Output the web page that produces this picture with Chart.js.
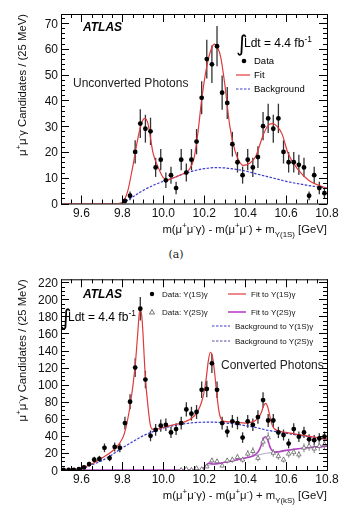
<!DOCTYPE html>
<html>
<head>
<meta charset="utf-8">
<script src="https://cdn.jsdelivr.net/npm/chart.js@4.4.1/dist/chart.umd.min.js"></script>
<style>
  body { margin: 0; background: #fff; width: 352px; height: 512px; overflow: hidden; position: relative; }
  canvas { position: absolute; left: 0; }
  #c1 { top: 0; }
  #c2 { top: 262px; }
  #cap { position: absolute; top: 248px; left: 0; width: 352px; text-align: center;
         font: 11px "DejaVu Serif", "Liberation Serif", serif; color: #222; }
</style>
</head>
<body>
<canvas id="c1" width="352" height="245"></canvas>
<div id="cap">(a)</div>
<canvas id="c2" width="352" height="250"></canvas>
<script>
// ---------------- Data ----------------
// histogram bins: 25 MeV from 9.5 GeV
const binStart = 9.5;
const binWidth = 0.025;
const xTickLabels = [9.6, 9.8, 10.0, 10.2, 10.4, 10.6, 10.8];
const yTickLabelsTop = [0, 10, 20, 30, 40, 50, 60, 70];
const yTickLabelsBottom = [0, 20, 40, 60, 80, 100, 120, 140, 160, 180, 200, 220];

// (a) unconverted photons
const unconvCounts = [null, null, null, null, null, null, null, null, null, null, null, null,
  1, 3, 20, 31, 29, 28, 14, 17, 9, 11, 6, 17, 12, 17, 24, 41, 56, 54, 61, 43, 39, 23,
  16, 11, 17, 14, 18, 30, 33, 29, 33, 20, 16, 16, 15, 14, 3, 11, 6, 4];
const unconvErrors = [0, 0, 0, 0, 0, 0, 0, 0, 0, 0, 0, 0,
  1, 1.7, 4.5, 5.6, 5.4, 5.3, 3.7, 4.1, 3, 3.3, 2.4, 4.1, 3.5, 4.1, 4.9, 6.4, 7.5, 7.3, 7.8, 6.6, 6.2, 4.8,
  4, 3.3, 4.1, 3.7, 4.2, 5.5, 5.7, 5.4, 5.7, 4.5, 4, 4, 3.9, 3.7, 1.7, 3.3, 2.4, 2];

const unconvFitX = [9.5, 9.78, 9.8, 9.825, 9.85, 9.875, 9.895, 9.91, 9.925, 9.95, 9.975, 10.0, 10.025, 10.05,
  10.1, 10.125, 10.15, 10.17, 10.187, 10.212, 10.237, 10.25, 10.265, 10.28, 10.3, 10.325, 10.35, 10.37, 10.39,
  10.42, 10.45, 10.49, 10.515, 10.535, 10.555, 10.58, 10.61, 10.66, 10.71, 10.8];
const unconvFitY = [0, 0, 0.5, 4.5, 14, 25, 31.5, 33, 31, 19.5, 14, 10, 9.2, 10,
  11.6, 13, 17.5, 28, 40, 53, 60.5, 61.8, 60.5, 57, 46.6, 30, 20.5, 16.5, 14.8,
  15.5, 18, 27, 30.5, 31, 30, 27, 19.4, 13, 9, 5.8];

const unconvBkgX = [9.8, 9.85, 9.9, 9.95, 10.0, 10.05, 10.1, 10.15, 10.2, 10.25, 10.3, 10.35, 10.4, 10.45,
  10.5, 10.55, 10.6, 10.65, 10.7, 10.75, 10.8];
const unconvBkgY = [0, 2.5, 5, 7, 8.6, 10, 11.5, 12.7, 13.5, 13.9, 13.8, 13.3, 12.6, 11.6,
  10.6, 9.6, 8.6, 7.8, 7.1, 6.5, 6];

// (b) converted photons
const conv1SCounts = [0, 0, 0, 1, 3, 7, 12, 13, 26, 14, 27, 26, 55, 80, 120, 189, 106, 40, 47, 52,
  53, 44, 48, 55, 71, 66, 68, 94, 95, 125, 94, 55, 45, 57, 55, 38, 57, 53, 62, 82,
  58, 58, 44, 41, 31, 48, 39, 44, 36, 35, 37, 39];
const conv1SErrors = [0, 0, 0, 1, 1.7, 2.6, 3.5, 3.6, 5.1, 3.7, 5.2, 5.1, 7.4, 8.9, 11, 13.7, 10.3, 6.3, 6.9, 7.2,
  7.3, 6.6, 6.9, 7.4, 8.4, 8.1, 8.2, 9.7, 9.7, 11.2, 9.7, 7.4, 6.7, 7.5, 7.4, 6.2, 7.5, 7.3, 7.9, 9.1,
  7.6, 7.6, 6.6, 6.4, 5.6, 6.9, 6.2, 6.6, 6, 5.9, 6.1, 6.2];

const conv2SCounts = [null, null, null, null, null, null, null, null, null, null, null, null, null, null,
  null, null, null, null, null, null, null, null, null,
  0, 1, 0, 2, 1, 4, 11, 10, 5, 11, 12, 15, 12, 19, 22, 14, 33, 38, 20, 16, 12, 19, 21, 18, 26, 28, 25, 28, 30];
const conv2SErrors = [0, 0, 0, 0, 0, 0, 0, 0, 0, 0, 0, 0, 0, 0, 0, 0, 0, 0, 0, 0, 0, 0, 0,
  0, 1, 0, 1.4, 1, 2, 3.3, 3.2, 2.2, 3.3, 3.5, 3.9, 3.5, 4.4, 4.7, 3.7, 5.7, 6.2, 4.5, 4, 3.5, 4.4, 4.6, 4.2, 5.1, 5.3, 5, 5.3, 5.5];

const conv1SFitX = [9.5, 9.55, 9.6, 9.65, 9.7, 9.75, 9.785, 9.81, 9.8375, 9.8625, 9.875, 9.885, 9.895, 9.9125,
  9.925, 9.935, 9.945, 9.97, 10.0, 10.05, 10.1, 10.15, 10.175, 10.19, 10.2, 10.21, 10.22, 10.23, 10.24,
  10.25, 10.26, 10.27, 10.28, 10.3, 10.35, 10.4, 10.45, 10.47, 10.48, 10.49, 10.5, 10.51, 10.52, 10.53,
  10.54, 10.55, 10.6, 10.7, 10.8];
const conv1SFitY = [0, 0.3, 2, 7, 14, 22, 31, 43, 75, 122, 160, 188, 180, 108,
  75, 55, 48, 48, 50, 53, 56, 63, 72, 82, 92, 108, 128, 138, 133,
  116, 92, 72, 61, 57, 56, 55, 58, 63, 68, 75, 78, 74, 64, 54,
  49, 47, 44, 40, 36];

const conv1SBkgX = [9.5, 9.55, 9.6, 9.65, 9.7, 9.75, 9.8, 9.85, 9.9, 9.95, 10.0, 10.05, 10.1, 10.15, 10.2,
  10.25, 10.3, 10.35, 10.4, 10.45, 10.5, 10.55, 10.6, 10.7, 10.8];
const conv1SBkgY = [0, 0.3, 2, 6, 11, 18, 26, 33, 40, 45, 49, 52, 54, 55.5, 56,
  56, 55, 54, 52, 50, 47, 45, 43, 39.5, 36];

const conv2SFitX = [9.5, 10.18, 10.2, 10.215, 10.225, 10.24, 10.25, 10.3, 10.35, 10.4, 10.45, 10.47, 10.48,
  10.49, 10.5, 10.51, 10.52, 10.53, 10.55, 10.6, 10.7, 10.8];
const conv2SFitY = [0, 0, 3, 7, 8, 7, 7, 9, 11.5, 14, 18, 24, 30,
  37, 39, 36, 28, 23, 21, 23, 26, 28];

const conv2SBkgX = [10.19, 10.2, 10.25, 10.3, 10.4, 10.5, 10.55, 10.6, 10.7, 10.8];
const conv2SBkgY = [0, 3, 7, 9, 14, 19.5, 21, 23, 26, 28];

// ---------------- Helpers ----------------
const FONT = '"Liberation Sans", Arial, Helvetica, sans-serif';
const RED = '#e0393b';
const BLUE = '#3a3ad0';
const PURPLE = '#b443c4';

function binPoints(counts) {
  return counts.map((c, i) => ({ x: binStart + binWidth * (i + 0.5), y: c }));
}
function curve(xs, ys) {
  return xs.map((x, i) => ({ x: x, y: ys[i] }));
}

// draw text made of pieces; piece = [text, 'sup'|'sub'|undefined]
function richWidth(ctx, parts, size) {
  let w = 0;
  parts.forEach(p => {
    ctx.font = (p[1] ? size * 0.7 : size) + 'px ' + FONT;
    w += ctx.measureText(p[0]).width;
  });
  return w;
}
function drawRich(ctx, parts, x, y, size, align) {
  if (align === 'right') x -= richWidth(ctx, parts, size);
  ctx.textAlign = 'left';
  ctx.textBaseline = 'alphabetic';
  parts.forEach(p => {
    let dy = 0;
    if (p[1] === 'sup') dy = -size * 0.42;
    if (p[1] === 'sub') dy = size * 0.32;
    ctx.font = (p[1] ? size * 0.7 : size) + 'px ' + FONT;
    ctx.fillText(p[0], x, y + dy);
    x += ctx.measureText(p[0]).width;
  });
}

// error bars drawn through the scales
const errorBars = {
  id: 'errorBars',
  beforeDatasetsDraw(chart) {
    const { ctx, scales: { x, y } } = chart;
    ctx.save();
    chart.data.datasets.forEach(ds => {
      if (!ds.errors) return;
      ctx.strokeStyle = ds.errorColor;
      ctx.lineWidth = 1.3;
      ds.data.forEach((p, i) => {
        const e = ds.errors[i];
        if (p.y === null || !e) return;
        const px = x.getPixelForValue(p.x);
        ctx.beginPath();
        ctx.moveTo(px, y.getPixelForValue(Math.max(0, p.y - e)));
        ctx.lineTo(px, y.getPixelForValue(p.y + e));
        ctx.stroke();
      });
    });
    ctx.restore();
  }
};

// ROOT-like frame, inside ticks on all four sides, tick labels and y title
const frameTicks = {
  id: 'frameTicks',
  afterDraw(chart) {
    const { ctx, chartArea: a, scales: { x, y } } = chart;
    const o = chart.options.plugins.frameTicks;
    ctx.save();
    ctx.strokeStyle = '#000';
    ctx.lineWidth = 1;
    ctx.strokeRect(a.left + 0.5, a.top + 0.5, a.right - a.left, a.bottom - a.top);
    ctx.beginPath();
    for (let i = 0; i <= 26; i++) {
      const px = Math.round(x.getPixelForValue(binStart + i * 0.05)) + 0.5;
      const len = (i % 4 === 2) ? 8 : 4;
      ctx.moveTo(px, a.bottom); ctx.lineTo(px, a.bottom - len);
      ctx.moveTo(px, a.top); ctx.lineTo(px, a.top + len);
    }
    for (let v = 0; v <= y.max; v += o.minor) {
      const py = Math.round(y.getPixelForValue(v)) + 0.5;
      const len = (Math.round(v) % o.major === 0) ? 8 : 4;
      ctx.moveTo(a.left, py); ctx.lineTo(a.left + len, py);
      ctx.moveTo(a.right, py); ctx.lineTo(a.right - len, py);
    }
    ctx.stroke();

    ctx.fillStyle = '#111';
    ctx.font = '12px ' + FONT;
    ctx.textAlign = 'center';
    ctx.textBaseline = 'alphabetic';
    xTickLabels.forEach(v => ctx.fillText(v.toFixed(1), x.getPixelForValue(v), a.bottom + 13));
    ctx.textAlign = 'right';
    o.yLabels.forEach(v => ctx.fillText(String(v), a.left - 3, y.getPixelForValue(v) + 4.5));

    // y title, right aligned to top of frame (ROOT style)
    ctx.translate(22, a.top);
    ctx.rotate(-Math.PI / 2);
    drawRich(ctx, [['μ'], ['+', 'sup'], ['μ'], ['-', 'sup'], ['γ Candidates / (25 MeV)']], 0, 4, 11.3, 'right');
    ctx.restore();
  }
};

function makeScales(yMax) {
  return {
    x: {
      type: 'linear', min: 9.5, max: 10.8,
      afterFit: s => { s.height = 20; },
      grid: { display: false }, border: { display: false },
      ticks: { display: false }
    },
    y: {
      min: 0, max: yMax,
      afterFit: s => { s.width = 46; },
      grid: { display: false }, border: { display: false },
      ticks: { display: false }
    }
  };
}

function xTitle(ctx, a, baseline, sub) {
  ctx.fillStyle = '#111';
  drawRich(ctx, [['m(μ'], ['+', 'sup'], ['μ'], ['-', 'sup'], ['γ) - m(μ'], ['+', 'sup'], ['μ'], ['-', 'sup'],
    [') + m'], [sub, 'sub'], [' [GeV]']], a.right, baseline, 11.3, 'right');
}

function atlasAndLumi(ctx, ax, ay, ix, iy) {
  ctx.fillStyle = '#000';
  ctx.font = 'italic bold 12px ' + FONT;
  ctx.textAlign = 'left';
  ctx.textBaseline = 'alphabetic';
  ctx.fillText('ATLAS', ax, ay);
  ctx.font = '22px "DejaVu Sans", sans-serif';
  ctx.fillText('∫', ix, iy);
  drawRich(ctx, [['Ldt = 4.4 fb'], ['-1', 'sup']], ix + 8, iy - 4, 12);
}

// ---------------- Chart (a): unconverted ----------------
const topText = {
  id: 'topText',
  afterDraw(chart) {
    const ctx = chart.ctx, a = chart.chartArea;
    ctx.save();
    xTitle(ctx, a, 233, 'Υ(1S)');
    atlasAndLumi(ctx, 83, 31, 236, 51);
    ctx.font = '12px ' + FONT;
    ctx.fillStyle = '#222';
    ctx.fillText('Unconverted Photons', 73, 87);
    // legend
    ctx.font = '9.5px ' + FONT;
    ctx.textBaseline = 'middle';
    ctx.fillStyle = '#000';
    ctx.beginPath(); ctx.arc(244, 61, 2.3, 0, Math.PI * 2); ctx.fill();
    ctx.fillText('Data', 254, 61);
    ctx.fillText('Fit', 254, 75);
    ctx.fillText('Background', 254, 89);
    ctx.lineWidth = 1.2;
    ctx.strokeStyle = RED;
    ctx.beginPath(); ctx.moveTo(236, 75); ctx.lineTo(250, 75); ctx.stroke();
    ctx.strokeStyle = BLUE;
    ctx.setLineDash([2.5, 1.5]);
    ctx.beginPath(); ctx.moveTo(236, 89); ctx.lineTo(250, 89); ctx.stroke();
    ctx.restore();
  }
};

new Chart(document.getElementById('c1'), {
  type: 'scatter',
  data: {
    datasets: [
      { data: binPoints(unconvCounts), errors: unconvErrors, errorColor: '#333', order: 0,
        pointRadius: 2.4, pointBackgroundColor: '#000', pointBorderWidth: 0 },
      { data: curve(unconvFitX, unconvFitY), showLine: true, borderColor: RED, borderWidth: 1.2,
        pointRadius: 0, cubicInterpolationMode: 'monotone', order: 1 },
      { data: curve(unconvBkgX, unconvBkgY), showLine: true, borderColor: BLUE, borderWidth: 1.2,
        borderDash: [2.5, 1.5], pointRadius: 0, cubicInterpolationMode: 'monotone', order: 2 }
    ]
  },
  options: {
    responsive: false, animation: false,
    layout: { padding: { left: 15, right: 25, top: 14, bottom: 21.5 } },
    plugins: { legend: { display: false }, tooltip: { enabled: false },
               frameTicks: { minor: 2, major: 10, yLabels: yTickLabelsTop } },
    scales: makeScales(73.5)
  },
  plugins: [errorBars, frameTicks, topText]
});

// ---------------- Chart (b): converted ----------------
const bottomText = {
  id: 'bottomText',
  afterDraw(chart) {
    const ctx = chart.ctx, a = chart.chartArea;
    ctx.save();
    xTitle(ctx, a, 237, 'Υ(kS)');
    atlasAndLumi(ctx, 83, 36, 60, 63);
    ctx.font = '12px ' + FONT;
    ctx.fillStyle = '#222';
    ctx.textBaseline = 'alphabetic';
    ctx.fillText('Converted Photons', 221, 107);
    // legend
    const size = 8;
    ctx.fillStyle = '#000';
    ctx.beginPath(); ctx.arc(152, 32, 2.2, 0, Math.PI * 2); ctx.fill();
    ctx.strokeStyle = '#555'; ctx.lineWidth = 0.8;
    ctx.beginPath(); ctx.moveTo(152, 47.5); ctx.lineTo(154.5, 52); ctx.lineTo(149.5, 52); ctx.closePath(); ctx.stroke();
    ctx.fillStyle = '#111';
    drawRich(ctx, [['Data: Υ(1S)γ']], 162, 35, size);
    drawRich(ctx, [['Data: Υ(2S)γ']], 162, 53, size);
    drawRich(ctx, [['Fit to Υ(1S)γ']], 251, 35, size);
    drawRich(ctx, [['Fit to Υ(2S)γ']], 251, 53, size);
    drawRich(ctx, [['Background to Υ(1S)γ']], 235, 67, size);
    drawRich(ctx, [['Background to Υ(2S)γ']], 235, 82, size);
    ctx.lineWidth = 1.2;
    ctx.strokeStyle = RED;
    ctx.beginPath(); ctx.moveTo(228, 32); ctx.lineTo(246, 32); ctx.stroke();
    ctx.strokeStyle = PURPLE; ctx.lineWidth = 1.6;
    ctx.beginPath(); ctx.moveTo(228, 50); ctx.lineTo(246, 50); ctx.stroke();
    ctx.setLineDash([2.5, 1.5]); ctx.lineWidth = 1.2;
    ctx.strokeStyle = BLUE;
    ctx.beginPath(); ctx.moveTo(212, 64); ctx.lineTo(230, 64); ctx.stroke();
    ctx.strokeStyle = '#5a4a9a';
    ctx.beginPath(); ctx.moveTo(212, 79); ctx.lineTo(230, 79); ctx.stroke();
    ctx.restore();
  }
};

new Chart(document.getElementById('c2'), {
  type: 'scatter',
  data: {
    datasets: [
      { data: binPoints(conv1SCounts), errors: conv1SErrors, errorColor: '#333', order: 0,
        pointRadius: 2.4, pointBackgroundColor: '#000', pointBorderWidth: 0 },
      { data: binPoints(conv2SCounts), errors: conv2SErrors, errorColor: '#999', order: 1,
        pointStyle: 'triangle', pointRadius: 2.6, pointBackgroundColor: '#fff',
        pointBorderColor: '#666', pointBorderWidth: 0.8 },
      { data: curve(conv1SFitX, conv1SFitY), showLine: true, borderColor: RED, borderWidth: 1.2,
        pointRadius: 0, cubicInterpolationMode: 'monotone', order: 2 },
      { data: curve(conv2SFitX, conv2SFitY), showLine: true, borderColor: PURPLE, borderWidth: 1.6,
        pointRadius: 0, cubicInterpolationMode: 'monotone', order: 3 },
      { data: curve(conv1SBkgX, conv1SBkgY), showLine: true, borderColor: BLUE, borderWidth: 1.2,
        borderDash: [2.5, 1.5], pointRadius: 0, cubicInterpolationMode: 'monotone', order: 4 },
      { data: curve(conv2SBkgX, conv2SBkgY), showLine: true, borderColor: '#a9a9c0', borderWidth: 1,
        pointRadius: 0, cubicInterpolationMode: 'monotone', order: 5 }
    ]
  },
  options: {
    responsive: false, animation: false,
    layout: { padding: { left: 15, right: 25, top: 17.3, bottom: 22 } },
    plugins: { legend: { display: false }, tooltip: { enabled: false },
               frameTicks: { minor: 5, major: 20, yLabels: yTickLabelsBottom } },
    scales: makeScales(223.5)
  },
  plugins: [errorBars, frameTicks, bottomText]
});
</script>
</body>
</html>
